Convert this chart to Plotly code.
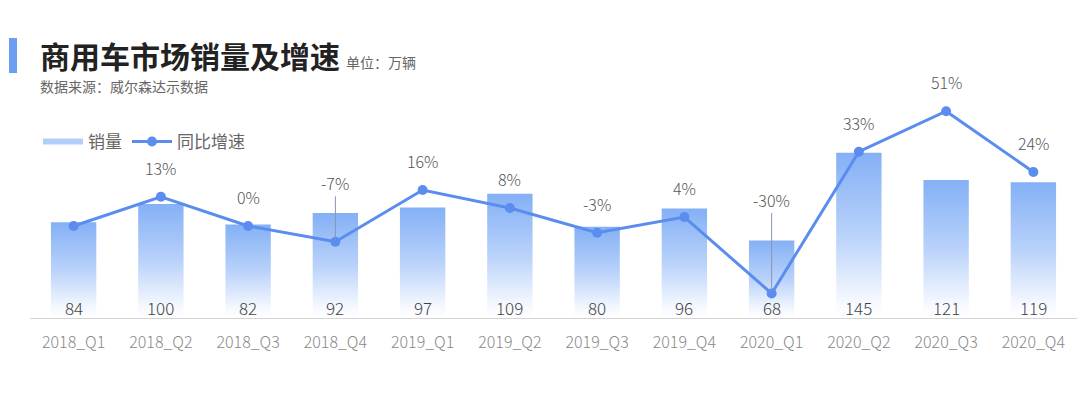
import plotly.graph_objects as go

# ---- data ----
categories = ["2018_Q1", "2018_Q2", "2018_Q3", "2018_Q4",
              "2019_Q1", "2019_Q2", "2019_Q3", "2019_Q4",
              "2020_Q1", "2020_Q2", "2020_Q3", "2020_Q4"]
sales = [84, 100, 82, 92, 97, 109, 80, 96, 68, 145, 121, 119]
growth = [0, 13, 0, -7, 16, 8, -3, 4, -30, 33, 51, 24]
growth_labels = ["", "13%", "0%", "-7%", "16%", "8%", "-3%", "4%", "-30%", "33%", "51%", "24%"]

title_text = "商用车市场销量及增速"
unit_text = "单位：万辆"
source_text = "数据来源：威尔森达示数据"
legend_names = ["销量", "同比增速"]

# ---- style ----
FONT = "Noto Sans CJK SC, Noto Sans, sans-serif"
W, H = 1080, 397
ML, MR, MT, MB = 30, 3, 100, 79
BAR_HALF = 0.26
LINE_COLOR = "#5b8def"
BAR_TOP = "#84b0f6"
LEADER = {"2018_Q4": 59, "2020_Q1": 94}   # leader-line label offsets (px)
LABEL_SHIFT = 29

plot_w = W - ML - MR
plot_h = H - MT - MB


def px_x(p):
    return (p - ML) / plot_w


def px_y(p):
    return (H - MB - p) / plot_h


fig = go.Figure()

# legend proxy for bars
fig.add_trace(go.Scatter(x=[None], y=[None], mode="lines", name=legend_names[0],
                         line=dict(color="#b3cdf9", width=6), hoverinfo="skip"))

# gradient bars
for i, v in enumerate(sales):
    fig.add_trace(go.Scatter(
        x=[i - BAR_HALF, i + BAR_HALF, i + BAR_HALF, i - BAR_HALF, i - BAR_HALF],
        y=[0, 0, v, v, 0],
        mode="lines", line=dict(width=0), fill="toself",
        fillgradient=dict(type="vertical", start=0, stop=v,
                          colorscale=[[0, "rgba(255,255,255,1)"], [0.12, "#f3f7fe"],
                                      [0.5, "#b9d2fa"], [1, BAR_TOP]]),
        showlegend=False, hoverinfo="skip"))

# growth line
fig.add_trace(go.Scatter(x=list(range(len(categories))), y=growth, yaxis="y2",
                         mode="lines+markers", name=legend_names[1],
                         line=dict(color=LINE_COLOR, width=3),
                         marker=dict(color=LINE_COLOR, size=10)))

annotations = []
# growth labels
for i, (g, lab) in enumerate(zip(growth, growth_labels)):
    if not lab:
        continue
    cat = categories[i]
    if cat in LEADER:
        annotations.append(dict(x=i, y=g, xref="x", yref="y2", text=lab,
                                showarrow=True, ax=0, ay=-LEADER[cat], arrowhead=0,
                                arrowwidth=1, arrowcolor="#8796b0", standoff=2,
                                font=dict(family=FONT, size=16, color="#555", weight=300)))
    else:
        annotations.append(dict(x=i, y=g, xref="x", yref="y2", text=lab,
                                showarrow=False, yshift=LABEL_SHIFT,
                                font=dict(family=FONT, size=16, color="#555", weight=300)))
# bar value labels
for i, v in enumerate(sales):
    annotations.append(dict(x=i, y=0, xref="x", yref="y", text=str(v),
                            showarrow=False, yshift=11,
                            font=dict(family=FONT, size=17, color="#444", weight=300)))

# titles
annotations.append(dict(x=px_x(38), y=px_y(55), xref="paper", yref="paper",
                        text="<b>" + title_text + "</b>", showarrow=False,
                        xanchor="left", yanchor="middle",
                        font=dict(family=FONT, size=30, color="#222")))
annotations.append(dict(x=px_x(344), y=px_y(62), xref="paper", yref="paper",
                        text=unit_text, showarrow=False,
                        xanchor="left", yanchor="middle",
                        font=dict(family=FONT, size=14, color="#666")))
annotations.append(dict(x=px_x(38), y=px_y(86), xref="paper", yref="paper",
                        text=source_text, showarrow=False,
                        xanchor="left", yanchor="middle",
                        font=dict(family=FONT, size=14, color="#666")))

shapes = [dict(type="rect", xref="paper", yref="paper",
               x0=px_x(9), x1=px_x(17), y0=px_y(73), y1=px_y(38),
               fillcolor="#6c9ef3", line=dict(width=0))]

fig.update_layout(
    width=W, height=H,
    margin=dict(l=ML, r=MR, t=MT, b=MB),
    paper_bgcolor="white", plot_bgcolor="white",
    font=dict(family=FONT, color="#666"),
    showlegend=True,
    legend=dict(orientation="h", x=px_x(38), y=px_y(124), xanchor="left", yanchor="top",
                font=dict(family=FONT, size=17, color="#666"),
                bgcolor="rgba(0,0,0,0)", itemwidth=40, tracegroupgap=0),
    xaxis=dict(range=[-0.5, len(categories) - 0.5], tickvals=list(range(len(categories))),
               ticktext=categories, showgrid=False, zeroline=False,
               showline=True, linecolor="#d3d3d3", linewidth=1,
               ticks="outside", ticklen=10, tickcolor="rgba(0,0,0,0)",
               tickfont=dict(family=FONT, size=16, color="#888", weight=300)),
    yaxis=dict(range=[0, plot_h / 1.14], visible=False, fixedrange=True),
    yaxis2=dict(range=[-92 / 2.25, (plot_h - 92) / 2.25], overlaying="y",
                visible=False, fixedrange=True),
    annotations=annotations,
    shapes=shapes,
)

fig.write_html("out.html")
